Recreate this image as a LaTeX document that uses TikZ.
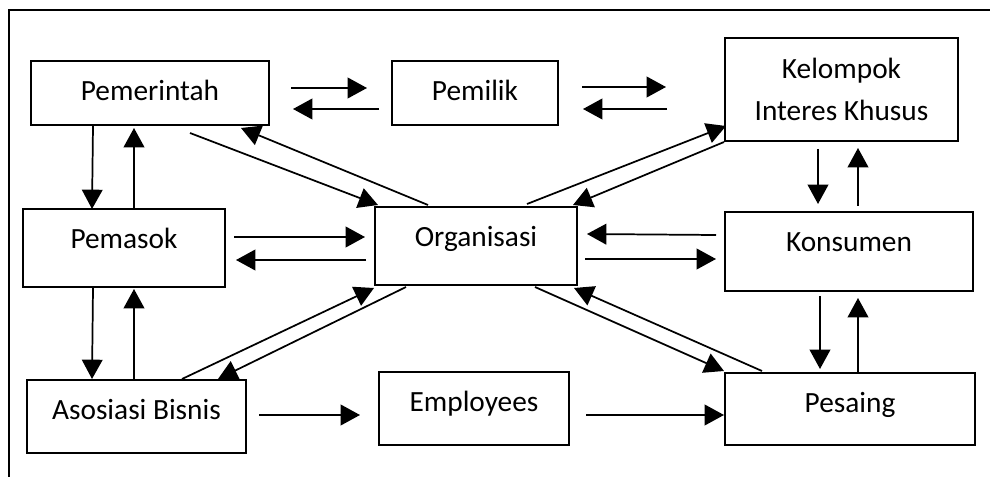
\documentclass[tikz,border=0pt]{standalone}
\usepackage{fontspec}
\setmainfont{Carlito}
\usetikzlibrary{arrows.meta}

\begin{document}
\begin{tikzpicture}[x=0.75pt,y=0.75pt,yscale=-1,xscale=1,
  kotak/.style={draw, line width=1.5pt, inner xsep=0pt, inner ysep=0pt, font=\fontsize{22pt}{31pt}\selectfont},
  blok/.style={kotak, text height=30pt, text depth=#1},
  panah/.style={line width=1.3pt, -{Triangle[length=14.5pt,width=15.5pt]}}]
\useasboundingbox (0,0) rectangle (990,477);

%Shape: Frame
\draw [line width=1.3pt] (990,10) -- (9,10) -- (9,477) ;

% Text Node
\node [blok=18pt, minimum width=178.5pt] (pem) at (150,93) {Pemerintah};
% Text Node
\node [blok=18pt, minimum width=124.5pt] (pml) at (475,93) {Pemilik};
% Text Node
\node [kotak, align=center, minimum width=174.75pt, minimum height=77.25pt] (kel) at (841.5,89.5) {Kelompok\\Interes Khusus};
% Text Node
\node [blok=28.5pt, minimum width=151.5pt] (pms) at (124,248) {Pemasok};
% Text Node
\node [blok=28.5pt, minimum width=151.5pt] (org) at (476,246) {Organisasi};
% Text Node
\node [blok=29.25pt, minimum width=186pt] (kon) at (849,251.5) {Konsumen};
% Text Node
\node [blok=24.75pt, minimum width=164.25pt] (aso) at (136.5,416.5) {Asosiasi Bisnis};
% Text Node
\node [blok=24.75pt, minimum width=142.5pt] (emp) at (474,408.5) {Employees};
% Text Node
\node [blok=24pt, minimum width=187.5pt] (pes) at (850,409) {Pesaing};

%Straight Lines: top row
\draw [panah] ([shift={(21,-5)}]pem.east) -- ([shift={(-24,-5)}]pml.west) ;
\draw [panah] ([shift={(-12,16)}]pml.west) -- ([shift={(23,16)}]pem.east) ;
\draw [panah] ([shift={(23,-6)}]pml.east) -- ([shift={(-58,-2.5)}]kel.west) ;
\draw [panah] ([shift={(-57,19.5)}]kel.west) -- ([shift={(24,16)}]pml.east) ;

%Straight Lines: left column
\draw [panah] ([shift={(-57,0)}]pem.south) -- ([shift={(-32,1)}]pms.north) ;
\draw [panah] ([shift={(10,1)}]pms.north) -- ([shift={(-16,2)}]pem.south) ;
\draw [panah] ([shift={(-31,0)}]pms.south) -- ([shift={(-44.5,0)}]aso.north) ;
\draw [panah] ([shift={(-2.5,0)}]aso.north) -- ([shift={(10,1)}]pms.south) ;

%Straight Lines: right column
\draw [panah] ([shift={(-23.5,7)}]kel.south) -- ([shift={(-31,-7)}]kon.north) ;
\draw [panah] ([shift={(9,-5)}]kon.north) -- ([shift={(16.5,6)}]kel.south) ;
\draw [panah] ([shift={(-29,4)}]kon.south) -- ([shift={(-30,-3)}]pes.north) ;
\draw [panah] ([shift={(8,0)}]pes.north) -- ([shift={(9,6)}]kon.south) ;

%Straight Lines: middle row
\draw [panah] ([shift={(8,-11)}]pms.east) -- ([shift={(-9,-9)}]org.west) ;
\draw [panah] ([shift={(-8,14)}]org.west) -- ([shift={(10,12)}]pms.east) ;
\draw [panah] ([shift={(-8,-16.5)}]kon.west) -- ([shift={(9,-12)}]org.east) ;
\draw [panah] ([shift={(7,13)}]org.east) -- ([shift={(-8,7.5)}]kon.west) ;

%Straight Lines: bottom row
\draw [panah] ([shift={(12,-1.5)}]aso.east) -- ([shift={(-18,6.5)}]emp.west) ;
\draw [panah] ([shift={(16,6.5)}]emp.east) -- ([shift={(0,6)}]pes.west) ;

%Straight Lines: diagonals
\draw [panah] ([shift={(40,7)}]pem.south) -- ([shift={(4,-1)}]org.north west) ;
\draw [panah] ([shift={(-48,-1)}]org.north) -- ([shift={(-29,2)}]pem.south east) ;
\draw [panah] ([shift={(51,-2)}]org.north) -- ([shift={(2,-16)}]kel.south west) ;
\draw [panah] (kel.south west) -- ([shift={(-5,-1)}]org.north east) ;
\draw [panah] ([shift={(45.5,0)}]aso.north) -- ([shift={(0,2)}]org.south west) ;
\draw [panah] ([shift={(32,1)}]org.south west) -- ([shift={(-29,0)}]aso.north east) ;
\draw [panah] ([shift={(59,1)}]org.south) -- ([shift={(0,-1)}]pes.north west) ;
\draw [panah] ([shift={(38,-1)}]pes.north west) -- ([shift={(-4,2)}]org.south east) ;

\end{tikzpicture}
\end{document}
